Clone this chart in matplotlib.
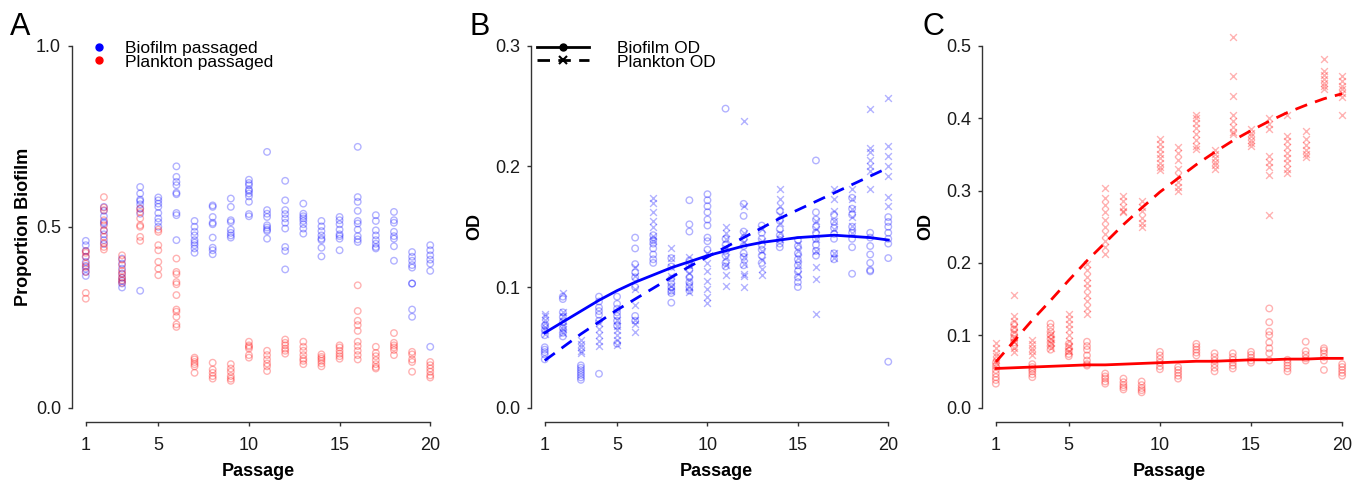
import matplotlib

matplotlib.use("Agg")
import matplotlib.pyplot as plt
from matplotlib.lines import Line2D

plt.rcParams["font.family"] = ["Liberation Sans", "DejaVu Sans"]

passages = list(range(1, 21))

# Panel A: proportion biofilm, per passage replicates
a_biofilm = [
    [0.461, 0.449, 0.433, 0.417, 0.403, 0.392, 0.384, 0.375, 0.364],
    [0.555, 0.544, 0.529, 0.513, 0.509, 0.490, 0.479, 0.463, 0.452],
    [0.412, 0.398, 0.384, 0.371, 0.359, 0.350, 0.343, 0.332],
    [0.610, 0.592, 0.575, 0.571, 0.562, 0.550, 0.536, 0.323],
    [0.581, 0.573, 0.564, 0.555, 0.538, 0.523, 0.513, 0.500],
    [0.667, 0.638, 0.624, 0.615, 0.594, 0.590, 0.538, 0.532, 0.463],
    [0.516, 0.500, 0.486, 0.476, 0.463, 0.456, 0.449, 0.440, 0.428],
    [0.559, 0.555, 0.527, 0.511, 0.507, 0.470, 0.442, 0.435, 0.424],
    [0.578, 0.555, 0.518, 0.513, 0.492, 0.483, 0.476, 0.470],
    [0.630, 0.621, 0.615, 0.603, 0.599, 0.592, 0.584, 0.569, 0.535, 0.529],
    [0.707, 0.546, 0.536, 0.527, 0.504, 0.498, 0.492, 0.488, 0.467],
    [0.627, 0.573, 0.546, 0.535, 0.523, 0.511, 0.495, 0.444, 0.433, 0.382],
    [0.564, 0.536, 0.529, 0.523, 0.516, 0.507, 0.495, 0.481],
    [0.516, 0.501, 0.488, 0.476, 0.467, 0.463, 0.442, 0.418],
    [0.527, 0.518, 0.507, 0.492, 0.479, 0.474, 0.467, 0.435],
    [0.721, 0.582, 0.569, 0.544, 0.516, 0.509, 0.492, 0.474, 0.465, 0.458],
    [0.532, 0.516, 0.490, 0.476, 0.463, 0.453, 0.444, 0.440],
    [0.541, 0.518, 0.511, 0.486, 0.474, 0.467, 0.446, 0.406],
    [0.430, 0.417, 0.406, 0.394, 0.387, 0.343, 0.343, 0.271, 0.251],
    [0.449, 0.435, 0.421, 0.409, 0.398, 0.378, 0.168],
]
a_plankton = [
    [0.433, 0.428, 0.417, 0.398, 0.389, 0.375, 0.317, 0.301],
    [0.582, 0.553, 0.546, 0.518, 0.504, 0.490, 0.472, 0.455, 0.444, 0.437],
    [0.421, 0.409, 0.394, 0.378, 0.369, 0.359, 0.352, 0.345],
    [0.550, 0.541, 0.523, 0.504, 0.500, 0.472, 0.461],
    [0.492, 0.486, 0.449, 0.435, 0.403, 0.384, 0.366],
    [0.412, 0.375, 0.369, 0.347, 0.341, 0.311, 0.271, 0.265, 0.251, 0.230, 0.223],
    [0.138, 0.133, 0.126, 0.120, 0.114, 0.096],
    [0.124, 0.105, 0.096, 0.087, 0.080],
    [0.120, 0.108, 0.099, 0.087, 0.080, 0.074],
    [0.182, 0.172, 0.168, 0.163, 0.145, 0.138],
    [0.157, 0.145, 0.133, 0.122, 0.114, 0.101],
    [0.188, 0.179, 0.172, 0.163, 0.157, 0.149],
    [0.182, 0.168, 0.157, 0.145, 0.135, 0.129, 0.120],
    [0.147, 0.140, 0.135, 0.129, 0.122, 0.114],
    [0.172, 0.166, 0.157, 0.149, 0.142, 0.135],
    [0.338, 0.267, 0.240, 0.228, 0.212, 0.182, 0.170, 0.157, 0.145, 0.133],
    [0.168, 0.151, 0.142, 0.131, 0.120, 0.112, 0.108],
    [0.206, 0.179, 0.172, 0.166, 0.159, 0.145],
    [0.154, 0.147, 0.133, 0.126, 0.099],
    [0.126, 0.117, 0.108, 0.099, 0.089, 0.083],
]

# Panel B: biofilm-passaged lines, OD
b_biofilm_od = [
    [0.068, 0.064, 0.060, 0.050, 0.048, 0.046, 0.044, 0.040],
    [0.092, 0.090, 0.079, 0.075, 0.071, 0.066, 0.062, 0.059],
    [0.035, 0.033, 0.031, 0.029, 0.027, 0.025, 0.023],
    [0.092, 0.088, 0.083, 0.080, 0.077, 0.072, 0.028],
    [0.092, 0.086, 0.082, 0.079, 0.076, 0.072, 0.068, 0.053],
    [0.141, 0.132, 0.119, 0.112, 0.108, 0.100, 0.076, 0.072],
    [0.143, 0.139, 0.136, 0.132, 0.127, 0.123, 0.120],
    [0.124, 0.117, 0.107, 0.103, 0.100, 0.097, 0.095, 0.087],
    [0.172, 0.152, 0.146, 0.122, 0.118, 0.114, 0.108, 0.104, 0.100, 0.097],
    [0.177, 0.172, 0.167, 0.162, 0.156, 0.151, 0.141, 0.138, 0.131],
    [0.248, 0.140, 0.135, 0.130, 0.126, 0.120, 0.117],
    [0.169, 0.159, 0.146, 0.140, 0.134, 0.128, 0.125, 0.118],
    [0.151, 0.145, 0.140, 0.135, 0.131, 0.126, 0.120],
    [0.163, 0.155, 0.148, 0.143, 0.139, 0.136, 0.133],
    [0.139, 0.134, 0.128, 0.123, 0.118, 0.113, 0.108, 0.104, 0.100],
    [0.205, 0.162, 0.156, 0.150, 0.145, 0.140, 0.135, 0.130, 0.126],
    [0.160, 0.154, 0.149, 0.144, 0.140, 0.128, 0.123],
    [0.174, 0.165, 0.160, 0.150, 0.145, 0.140, 0.133, 0.111],
    [0.145, 0.141, 0.134, 0.127, 0.120, 0.114, 0.113],
    [0.158, 0.154, 0.150, 0.145, 0.140, 0.136, 0.124, 0.038],
]
b_plankton_od = [
    [0.078, 0.076, 0.073, 0.070, 0.067, 0.064, 0.061],
    [0.095, 0.079, 0.076, 0.072, 0.068, 0.065, 0.062],
    [0.056, 0.053, 0.050, 0.047, 0.045],
    [0.070, 0.065, 0.060, 0.055, 0.051],
    [0.073, 0.068, 0.064, 0.060, 0.056, 0.052],
    [0.117, 0.109, 0.098, 0.085, 0.073, 0.069, 0.063],
    [0.174, 0.170, 0.162, 0.155, 0.150, 0.142, 0.138],
    [0.132, 0.124, 0.117, 0.109, 0.101, 0.097],
    [0.125, 0.118, 0.112, 0.106, 0.100, 0.096],
    [0.128, 0.120, 0.113, 0.105, 0.098, 0.092, 0.087],
    [0.150, 0.145, 0.140, 0.132, 0.125, 0.118, 0.110, 0.101],
    [0.238, 0.167, 0.145, 0.137, 0.125, 0.119, 0.111, 0.109, 0.100],
    [0.148, 0.138, 0.130, 0.122, 0.115, 0.110],
    [0.181, 0.173, 0.167, 0.160, 0.153, 0.145, 0.140],
    [0.136, 0.130, 0.124, 0.118, 0.111],
    [0.155, 0.148, 0.140, 0.130, 0.117, 0.107, 0.078],
    [0.181, 0.173, 0.163, 0.155, 0.148, 0.128, 0.124],
    [0.181, 0.173, 0.165, 0.158, 0.151, 0.145],
    [0.248, 0.215, 0.212, 0.205, 0.200, 0.196, 0.181],
    [0.257, 0.217, 0.209, 0.200, 0.192, 0.175, 0.167],
]
b_fit_biofilm = [0.062, 0.071, 0.080, 0.089, 0.097, 0.104, 0.110, 0.116, 0.121, 0.126,
                 0.130, 0.134, 0.137, 0.139, 0.141, 0.142, 0.143, 0.142, 0.141, 0.139]
b_fit_plankton = [0.039, 0.050, 0.061, 0.071, 0.081, 0.090, 0.099, 0.108, 0.117, 0.125,
                  0.133, 0.141, 0.149, 0.157, 0.164, 0.171, 0.178, 0.185, 0.192, 0.199]

# Panel C: plankton-passaged lines, OD
c_biofilm_od = [
    [0.062, 0.057, 0.052, 0.047, 0.042, 0.038, 0.033],
    [0.115, 0.108, 0.101, 0.095, 0.090, 0.085],
    [0.060, 0.056, 0.053, 0.050, 0.046, 0.042],
    [0.116, 0.111, 0.105, 0.100, 0.095, 0.090, 0.085, 0.080],
    [0.088, 0.082, 0.078, 0.074, 0.071],
    [0.091, 0.085, 0.080, 0.072, 0.065, 0.060, 0.058],
    [0.047, 0.043, 0.040, 0.036, 0.033],
    [0.040, 0.035, 0.031, 0.028, 0.025],
    [0.036, 0.031, 0.027, 0.024, 0.021],
    [0.077, 0.072, 0.067, 0.062, 0.057, 0.053],
    [0.056, 0.052, 0.048, 0.044, 0.040],
    [0.088, 0.084, 0.080, 0.076, 0.072],
    [0.075, 0.070, 0.065, 0.060, 0.055, 0.050],
    [0.075, 0.070, 0.066, 0.062, 0.058, 0.054],
    [0.077, 0.073, 0.069, 0.065, 0.062],
    [0.137, 0.118, 0.105, 0.100, 0.090, 0.082, 0.075, 0.065],
    [0.066, 0.062, 0.058, 0.054, 0.050],
    [0.091, 0.078, 0.073, 0.068, 0.065],
    [0.082, 0.079, 0.075, 0.070, 0.065, 0.052],
    [0.060, 0.056, 0.052, 0.048, 0.044],
]
c_plankton_od = [
    [0.089, 0.082, 0.076, 0.071, 0.066, 0.062],
    [0.155, 0.127, 0.120, 0.112, 0.105, 0.098, 0.090, 0.083, 0.077],
    [0.093, 0.088, 0.083, 0.078, 0.072],
    [0.102, 0.095, 0.089, 0.082],
    [0.130, 0.122, 0.115, 0.108, 0.100, 0.092, 0.085, 0.078],
    [0.199, 0.190, 0.180, 0.172, 0.165, 0.155, 0.147, 0.138, 0.130],
    [0.303, 0.290, 0.280, 0.270, 0.260, 0.250, 0.240, 0.230, 0.222, 0.213],
    [0.292, 0.285, 0.278, 0.272, 0.270],
    [0.285, 0.278, 0.272, 0.262, 0.255, 0.250],
    [0.372, 0.365, 0.357, 0.350, 0.345, 0.338, 0.333, 0.328],
    [0.360, 0.352, 0.342, 0.330, 0.320, 0.312, 0.305, 0.300],
    [0.404, 0.400, 0.393, 0.386, 0.378, 0.370, 0.362, 0.358],
    [0.356, 0.350, 0.345, 0.340, 0.335, 0.330],
    [0.512, 0.459, 0.431, 0.405, 0.396, 0.388, 0.381, 0.378],
    [0.385, 0.380, 0.375, 0.370, 0.366, 0.362],
    [0.400, 0.392, 0.385, 0.348, 0.340, 0.332, 0.322, 0.266],
    [0.404, 0.375, 0.368, 0.360, 0.352, 0.345, 0.338, 0.330, 0.324],
    [0.382, 0.372, 0.363, 0.356, 0.350, 0.346],
    [0.482, 0.466, 0.460, 0.454, 0.449, 0.445, 0.440],
    [0.458, 0.452, 0.445, 0.440, 0.435, 0.430, 0.405],
]
c_fit_biofilm = [0.054, 0.055, 0.056, 0.057, 0.058, 0.059, 0.059, 0.060, 0.061, 0.062,
                 0.063, 0.064, 0.064, 0.065, 0.066, 0.066, 0.067, 0.067, 0.068, 0.068]
c_fit_plankton = [0.063, 0.092, 0.121, 0.148, 0.176, 0.203, 0.228, 0.253, 0.276, 0.298,
                  0.317, 0.336, 0.353, 0.369, 0.383, 0.396, 0.408, 0.418, 0.427, 0.434]

FIG_W, FIG_H = 1352, 480
AX_COLOR = "#333333"
DASH = (0, (4.5, 3))


def px_axes(left, right, top, bottom):
    return [left / FIG_W, 1 - bottom / FIG_H, (right - left) / FIG_W, (bottom - top) / FIG_H]


def style_axes(ax, ymax, yticks, ylabels, ylabel, ylabelpad=8):
    pad_x = 0.04 * 19
    ax.set_xlim(1 - pad_x, 20 + pad_x)
    ax.set_ylim(-0.04 * ymax, ymax * 1.04)
    for side in ("top", "right"):
        ax.spines[side].set_visible(False)
    for side in ("left", "bottom"):
        ax.spines[side].set_color(AX_COLOR)
        ax.spines[side].set_linewidth(1.0)
    ax.spines["left"].set_bounds(0, ymax)
    ax.spines["bottom"].set_bounds(1, 20)
    ax.set_xticks([1, 5, 10, 15, 20])
    ax.set_yticks(yticks)
    ax.set_yticklabels(ylabels)
    ax.tick_params(axis="both", colors=AX_COLOR, labelcolor="#1a1a1a",
                   labelsize=13, length=3, width=1.0)
    ax.tick_params(axis="x", pad=8)
    ax.tick_params(axis="y", pad=5)
    ax.set_xlabel("Passage", fontsize=13, fontweight="bold", labelpad=6)
    ax.set_ylabel(ylabel, fontsize=13, fontweight="bold", labelpad=ylabelpad)


def scatter_groups(ax, groups, color, marker):
    for p, vals in zip(passages, groups):
        if marker == "o":
            ax.scatter([p] * len(vals), vals, s=22, marker="o", facecolors="none",
                       edgecolors=[color + (0.3,)], linewidths=1.0)
        else:
            ax.scatter([p] * len(vals), vals, s=24, marker="x",
                       color=[color + (0.3,)], linewidths=1.0)


blue = (0.0, 0.0, 1.0)
red = (1.0, 0.0, 0.0)

fig = plt.figure(figsize=(FIG_W / 100, FIG_H / 100), dpi=100)

# A
ax_a = fig.add_axes(px_axes(72, 444, 31.5, 422))
scatter_groups(ax_a, a_biofilm, blue, "o")
scatter_groups(ax_a, a_plankton, red, "o")
style_axes(ax_a, 1.0, [0.0, 0.5, 1.0], ["0.0", "0.5", "1.0"], "Proportion Biofilm",
           ylabelpad=3)
leg_a = [Line2D([], [], ls="none", marker="o", ms=5, color="blue"),
         Line2D([], [], ls="none", marker="o", ms=5, color="red")]
ax_a.legend(leg_a, ["Biofilm passaged", "Plankton passaged"], loc="upper left",
            bbox_to_anchor=(90 / FIG_W, 1 - 41 / FIG_H), bbox_transform=fig.transFigure,
            frameon=False, fontsize=12.5, handlelength=1.0, handletextpad=1.0,
            labelspacing=-0.1, borderpad=0, borderaxespad=0)

# B
ax_b = fig.add_axes(px_axes(531, 902, 31.5, 422))
scatter_groups(ax_b, b_biofilm_od, blue, "o")
scatter_groups(ax_b, b_plankton_od, blue, "x")
ax_b.plot(passages, b_fit_biofilm, color="blue", lw=2)
ax_b.plot(passages, b_fit_plankton, color="blue", lw=2, ls=DASH)
style_axes(ax_b, 0.3, [0.0, 0.1, 0.2, 0.3], ["0.0", "0.1", "0.2", "0.3"], "OD")
leg_b = [Line2D([], [], color="black", lw=2, marker="o", ms=5),
         Line2D([], [], color="black", lw=2, ls=DASH, marker="x", ms=6, mew=1.5)]
ax_b.legend(leg_b, ["Biofilm OD", "Plankton OD"], loc="upper left",
            bbox_to_anchor=(537 / FIG_W, 1 - 41 / FIG_H), bbox_transform=fig.transFigure,
            frameon=False, fontsize=12.5, handlelength=3.0, handletextpad=1.6,
            labelspacing=-0.1, borderpad=0, borderaxespad=0)

# C
ax_c = fig.add_axes(px_axes(982, 1356, 31.5, 422))
scatter_groups(ax_c, c_biofilm_od, red, "o")
scatter_groups(ax_c, c_plankton_od, red, "x")
ax_c.plot(passages, c_fit_biofilm, color="red", lw=2)
ax_c.plot(passages, c_fit_plankton, color="red", lw=2, ls=DASH)
style_axes(ax_c, 0.5, [0.0, 0.1, 0.2, 0.3, 0.4, 0.5],
           ["0.0", "0.1", "0.2", "0.3", "0.4", "0.5"], "OD")

for letter, xpx in (("A", 10), ("B", 469), ("C", 923)):
    fig.text(xpx / FIG_W, 1 - 27 / FIG_H, letter, fontsize=22, va="center", ha="left")

fig.savefig("out.png", dpi=100)
